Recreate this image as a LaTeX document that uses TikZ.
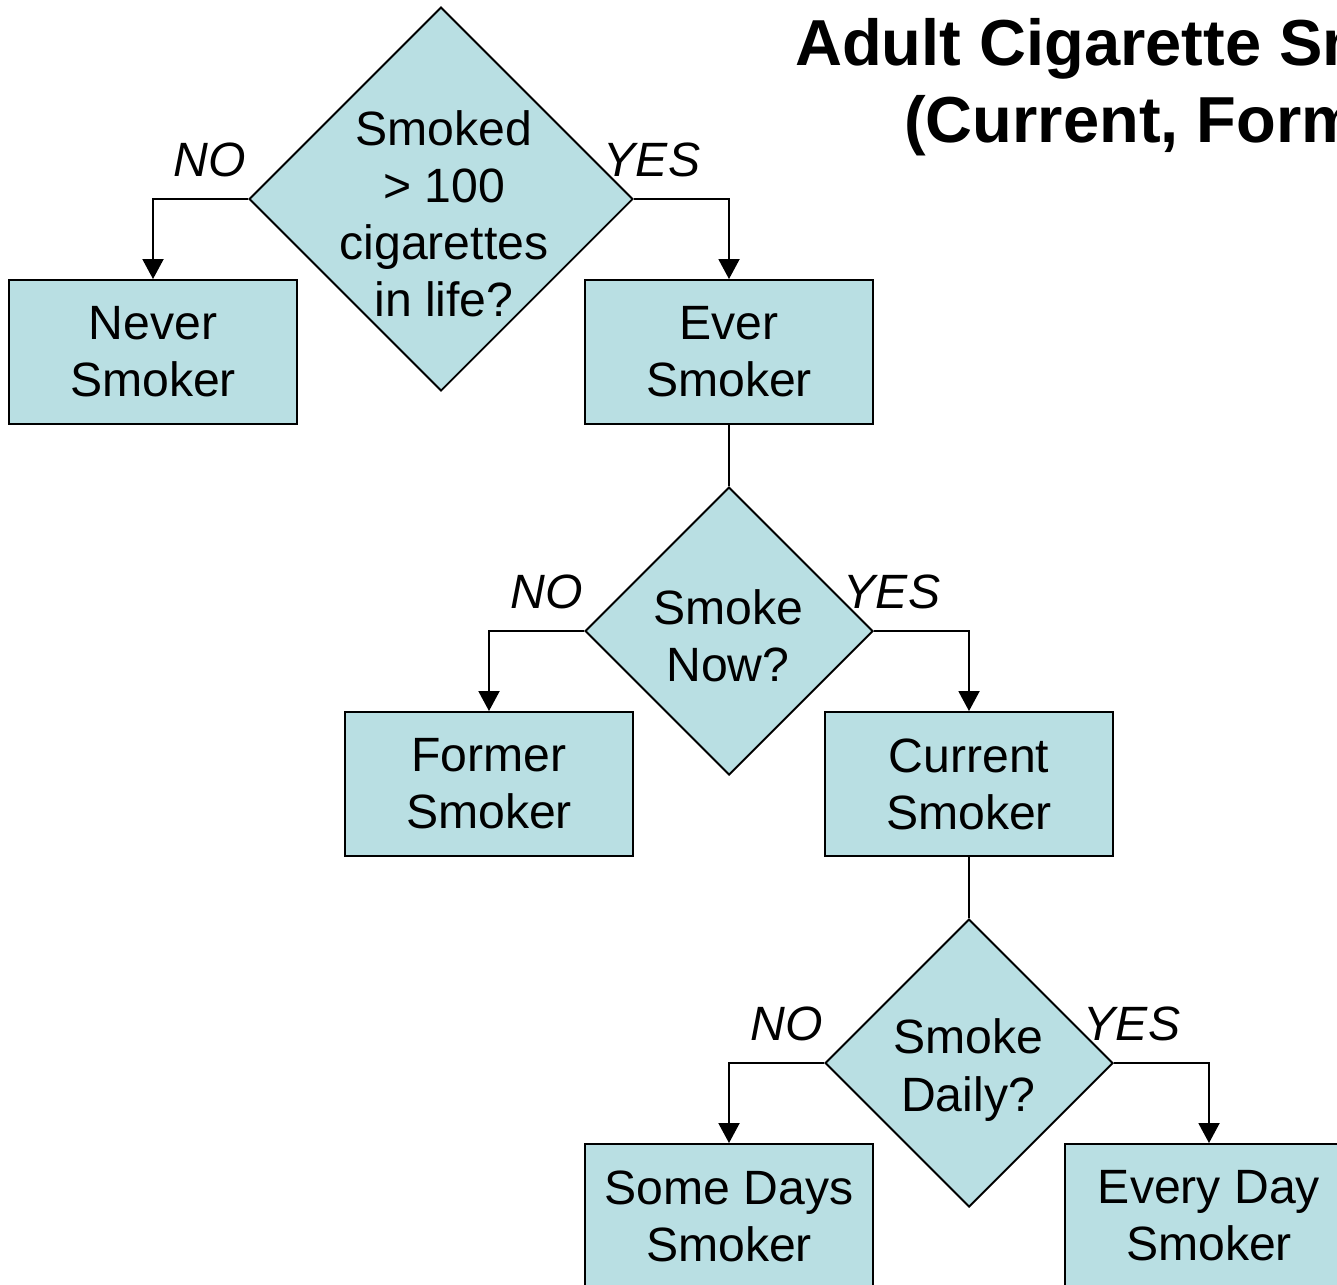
\documentclass[tikz,border=0pt]{standalone}
\usepackage{fontspec}
\setmainfont{Liberation Sans}
\usetikzlibrary{shapes.geometric,arrows.meta}

\definecolor{boxfill}{RGB}{185,223,227}

\tikzset{
  every node/.style={font=\fontsize{27.4}{32.5}\selectfont, align=center},
  box/.style={rectangle, draw, fill=boxfill, line width=1.1pt, minimum width=5.76cm, minimum height=2.88cm, inner sep=0pt},
  question/.style={diamond, draw, fill=boxfill, line width=1.1pt, inner sep=0pt},
  answer/.style={font=\fontsize{27.4}{32.5}\selectfont\itshape},
  flow/.style={line width=1.1pt, -{Triangle[length=0.4cm, width=0.42cm]}}
}

\begin{document}
\begin{tikzpicture}
			\useasboundingbox (0,0) rectangle (26.74,-25.68);
			\clip (0,0) rectangle (26.74,-25.68);
			
			% Title
			\node[anchor=base west, font=\fontsize{37}{44}\selectfont\bfseries] (title1) at (15.78,-1.30) {Adult Cigarette Sm};
			\node[anchor=base west, font=\fontsize{37}{44}\selectfont\bfseries] (title2) at (17.96,-2.84) {(Current, Form};
			
			% First question
			\node[question, minimum size=7.68cm] (Q1) at (8.82,-3.98) {};
			\node (Q1t) at (8.88,-4.28) {Smoked\\> 100\\cigarettes\\in life?};
			
			\node[box] (never) at (3.06,-7.04) {Never\\Smoker};
			\node[box] (ever) at (14.58,-7.04) {Ever\\Smoker};
			
			\draw[flow] (Q1.west) -| (never.north);
			\draw[flow] (Q1.east) -| (ever.north);
			
			\node[answer] (no1) at (4.20,-3.20) {NO};
			\node[answer] (yes1) at (13.04,-3.20) {YES};
			
			% Second question
			\node[question, minimum size=5.76cm] (Q2) at (14.58,-12.62) {};
			\node (Q2t) at (14.56,-12.72) {Smoke\\Now?};
			
			\draw[line width=1.1pt] (ever.south) -- (Q2.north);
			
			\node[box] (former) at (9.78,-15.68) {Former\\Smoker};
			\node[box] (current) at (19.38,-15.68) {Current\\Smoker};
			
			\draw[flow] (Q2.west) -| (former.north);
			\draw[flow] (Q2.east) -| (current.north);
			
			\node[answer] (no2) at (10.94,-11.84) {NO};
			\node[answer] (yes2) at (17.84,-11.84) {YES};
			
			% Third question
			\node[question, minimum size=5.76cm] (Q3) at (19.38,-21.26) {};
			\node (Q3t) at (19.36,-21.40) {Smoke\\Daily?};
			
			\draw[line width=1.1pt] (current.south) -- (Q3.north);
			
			\node[box] (somedays) at (14.58,-24.32) {Some Days\\Smoker};
			\node[box] (everyday) at (24.18,-24.32) {Every Day\\Smoker};
			
			\draw[flow] (Q3.west) -| (somedays.north);
			\draw[flow] (Q3.east) -| (everyday.north);
			
			\node[answer] (no3) at (15.74,-20.48) {NO};
			\node[answer] (yes3) at (22.64,-20.48) {YES};
\end{tikzpicture}
\end{document}
